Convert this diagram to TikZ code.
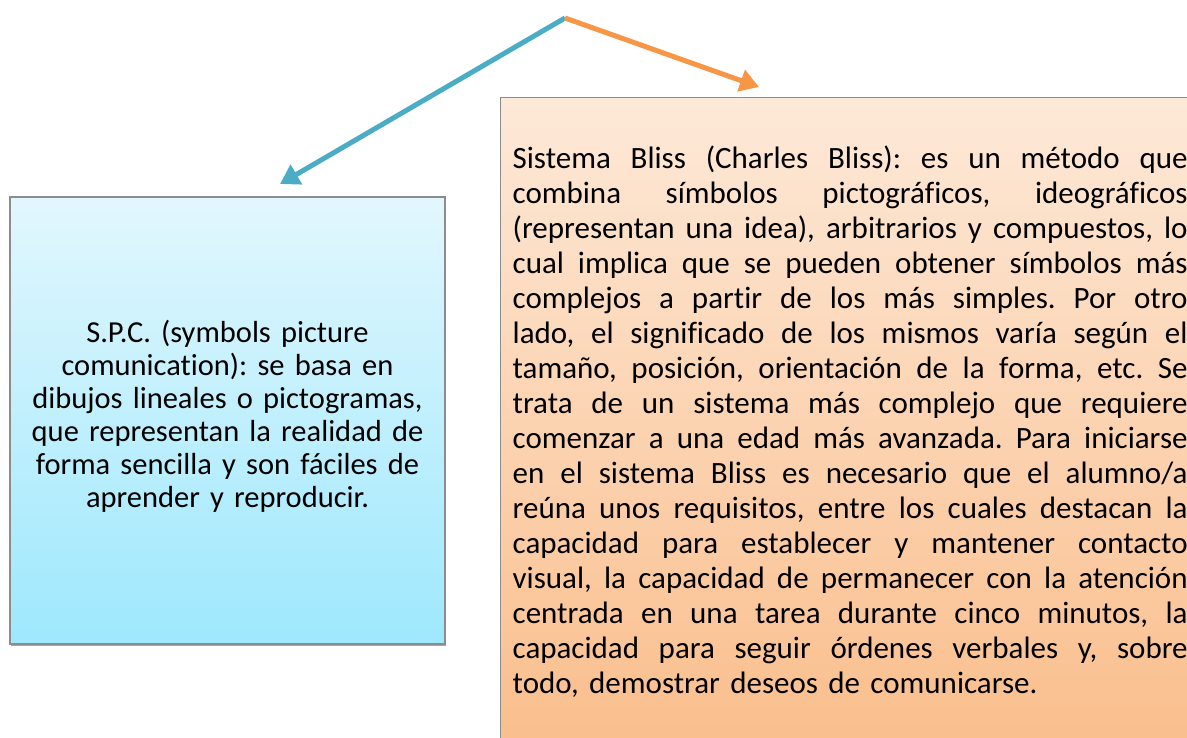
\documentclass[tikz,border=0pt]{standalone}
\usepackage{fontspec}
\setmainfont{Carlito}[Ligatures=NoCommon]
\usetikzlibrary{arrows.meta,shadows}
\definecolor{teal1}{RGB}{75,172,198}
\definecolor{orange1}{RGB}{247,150,70}
\definecolor{cyanTop}{RGB}{226,247,253}
\definecolor{cyanBot}{RGB}{158,232,253}
\definecolor{peachTop}{RGB}{253,233,216}
\definecolor{peachBot}{RGB}{250,190,140}
\definecolor{edge}{RGB}{140,140,140}
\newcommand\jl[1]{\makebox[675pt][s]{\spaceskip=\fontdimen2\font plus 1fill\relax #1}\\}
\tikzset{
  box/.style={draw=edge, line width=1.3pt, rectangle, inner sep=0pt,
    drop shadow={shadow xshift=1.2pt, shadow yshift=-1.8pt, opacity=0.35, fill=black}},
  conn/.style={line width=5pt, -{Triangle[length=19pt,width=22pt]}},
  txtR/.style={font=\fontsize{31}{35}\selectfont\frenchspacing},
  txtL/.style={font=\fontsize{30.5}{33}\selectfont\frenchspacing}
}
\begin{document}
\begin{tikzpicture}[x=1pt,y=-1pt]
\useasboundingbox (0,0) rectangle (1187,738);
\clip (0,0) rectangle (1187,738);
\node[box, top color=cyanTop, bottom color=cyanBot, minimum width=435pt, minimum height=447pt,
  text width=430pt, align=center, txtL] (spc) at (227.5,420.5)
  {S.P.C. (symbols picture\\comunication): se basa en\\dibujos lineales o pictogramas,\\que representan la realidad de\\forma sencilla y son fáciles de\\aprender y reproducir.\\[-19pt]\mbox{}};
\node[box, anchor=north west, top color=peachTop, bottom color=peachBot, minimum width=700pt,
  minimum height=648pt, text width=676pt, align=left, inner xsep=12pt, txtR] (bliss) at (500,97)
  {\jl{Sistema Bliss (Charles Bliss): es un método que}%
   \jl{combina símbolos pictográficos, ideográficos}%
   \jl{(representan una idea), arbitrarios y compuestos, lo}%
   \jl{cual implica que se pueden obtener símbolos más}%
   \jl{complejos a partir de los más simples. Por otro}%
   \jl{lado, el significado de los mismos varía según el}%
   \jl{tamaño, posición, orientación de la forma, etc. Se}%
   \jl{trata de un sistema más complejo que requiere}%
   \jl{comenzar a una edad más avanzada. Para iniciarse}%
   \jl{en el sistema Bliss es necesario que el alumno/a}%
   \jl{reúna unos requisitos, entre los cuales destacan la}%
   \jl{capacidad para establecer y mantener contacto}%
   \jl{visual, la capacidad de permanecer con la atención}%
   \jl{centrada en una tarea durante cinco minutos, la}%
   \jl{capacidad para seguir órdenes verbales y, sobre}%
   todo, demostrar deseos de comunicarse.};
\coordinate (top) at (565,18);
\coordinate (tipL) at (280,184);
\coordinate (tipR) at (759,87);
\draw[conn, teal1] (top) -- (tipL);
\draw[conn, orange1] (top) -- (tipR);
\end{tikzpicture}
\end{document}
